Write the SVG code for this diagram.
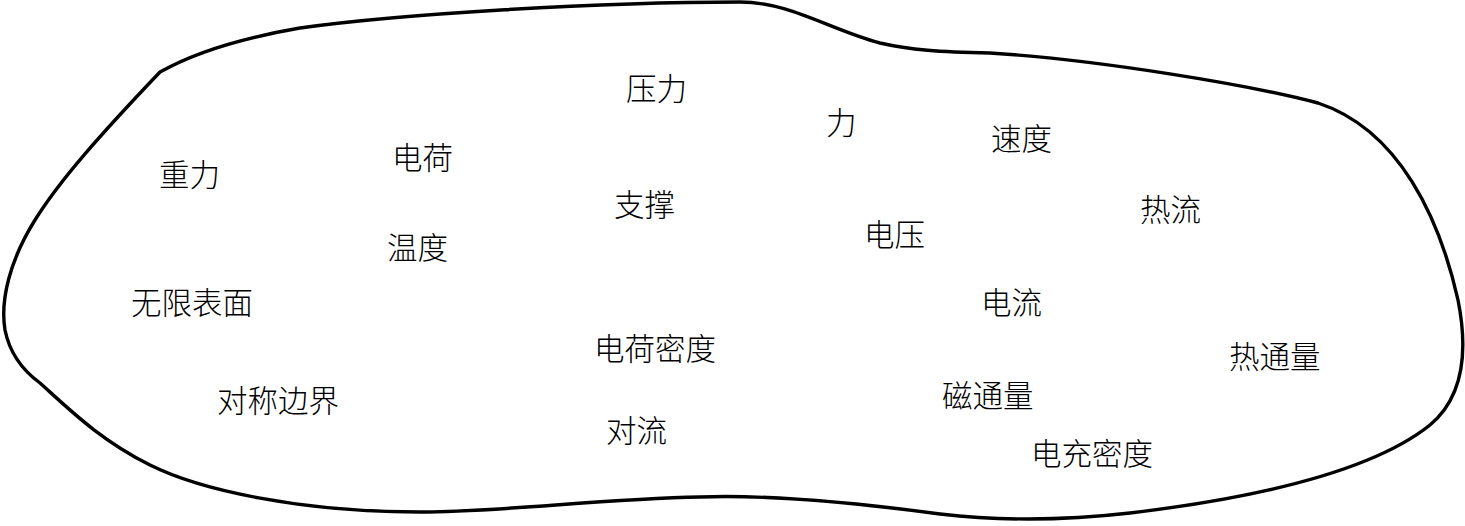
<svg xmlns="http://www.w3.org/2000/svg" width="1465" height="526" viewBox="0 0 1465 526">
<style>
.lbl{font-family:"Noto Sans CJK SC","Noto Sans CJK JP",sans-serif;font-size:30.5px;font-weight:300;fill:#000}
.blob{fill:none;stroke:#000;stroke-width:3.4;stroke-linejoin:round}
</style>
<rect width="1465" height="526" fill="#fff"/>
<g id="boundary">
<path class="blob" d="M160,72 C190,55 230,40 300,28 C400,14 600,2 740,2 C790,2 830,30 880,43 C910,50 940,52 990,53 C1100,60 1250,85 1318,103 C1400,130 1440,220 1458,300 C1470,360 1460,400 1430,425 C1380,465 1280,495 1130,513 C1060,521 1000,521 940,514 C880,506 780,494 700,497 C600,499 500,512 420,512 C300,512 200,490 150,465 C100,440 70,410 40,383 C25,372 10,355 5,330 C0,300 10,260 35,220 C60,180 100,135 160,72 Z"/>
</g>
<g id="connectors"></g>
<g id="n-zhongli"><text class="lbl" x="159" y="186">重力</text></g>
<g id="n-dianhe"><text class="lbl" x="392" y="169">电荷</text></g>
<g id="n-wendu"><text class="lbl" x="387" y="259">温度</text></g>
<g id="n-wuxian"><text class="lbl" x="131" y="314">无限表面</text></g>
<g id="n-duicheng"><text class="lbl" x="217" y="412">对称边界</text></g>
<g id="n-yali"><text class="lbl" x="626" y="100">压力</text></g>
<g id="n-li"><text class="lbl" x="826" y="134">力</text></g>
<g id="n-zhicheng"><text class="lbl" x="614" y="216">支撑</text></g>
<g id="n-dianya"><text class="lbl" x="864" y="246">电压</text></g>
<g id="n-dianhemidu"><text class="lbl" x="594" y="360">电荷密度</text></g>
<g id="n-duiliu"><text class="lbl" x="606" y="442">对流</text></g>
<g id="n-citongliang"><text class="lbl" x="942" y="407">磁通量</text></g>
<g id="n-sudu"><text class="lbl" x="991" y="150">速度</text></g>
<g id="n-reliu"><text class="lbl" x="1140" y="221">热流</text></g>
<g id="n-dianliu"><text class="lbl" x="981" y="314">电流</text></g>
<g id="n-retongliang"><text class="lbl" x="1229" y="368">热通量</text></g>
<g id="n-dianchongmidu"><text class="lbl" x="1031" y="465">电充密度</text></g>
</svg>
